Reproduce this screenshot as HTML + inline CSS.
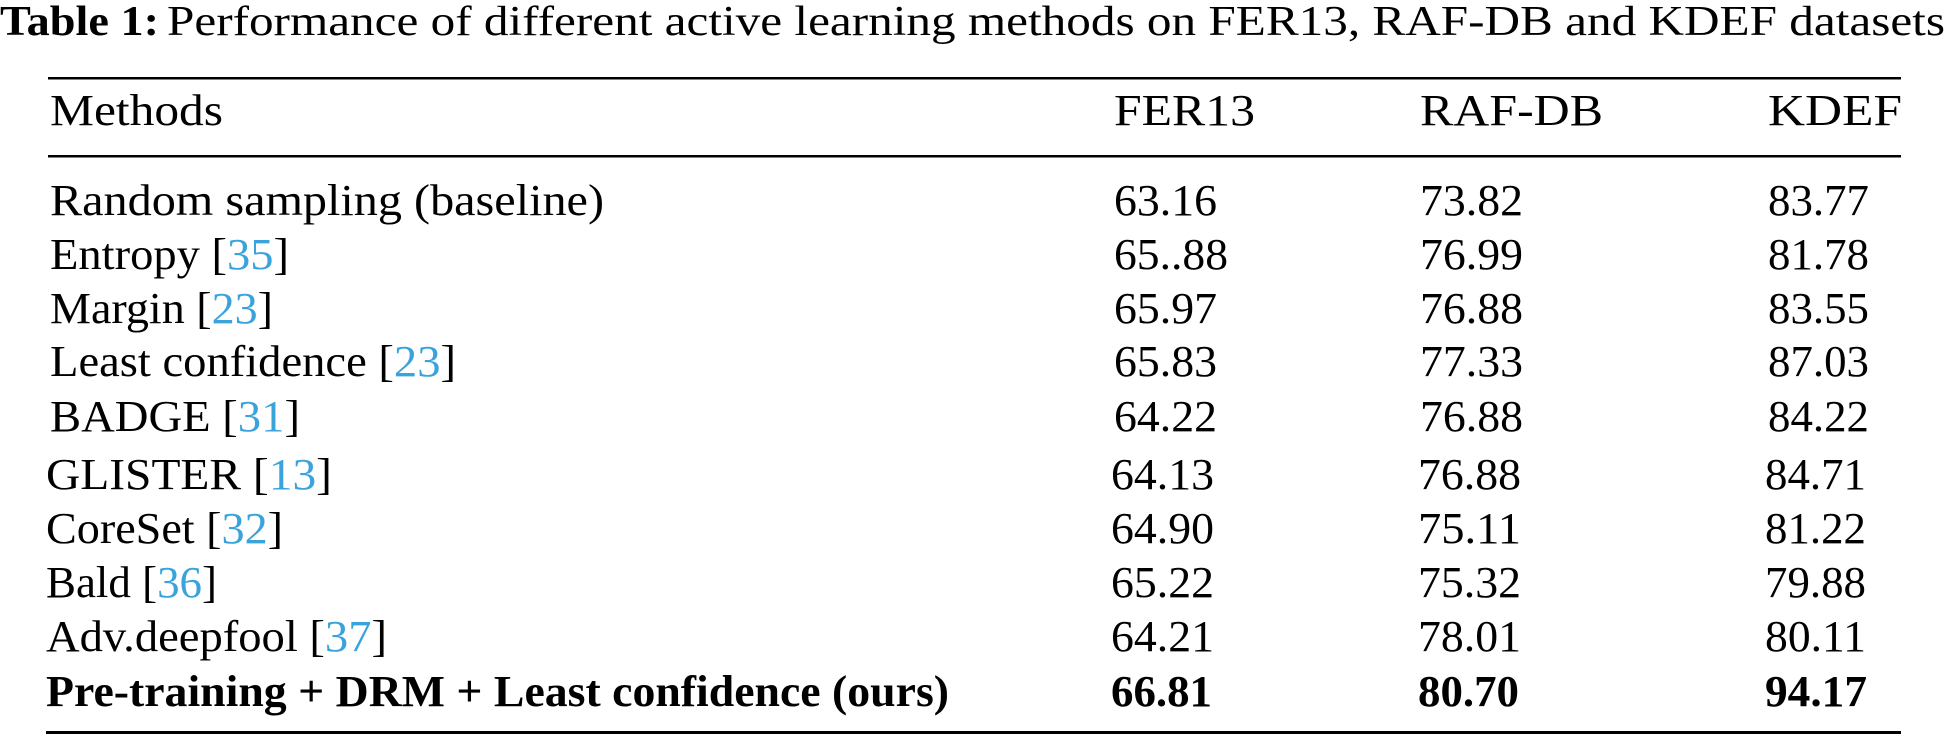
<!DOCTYPE html>
<html><head><meta charset="utf-8"><style>
html,body{margin:0;padding:0;background:#fff;}
svg{display:block;}
text{font-family:"Liberation Serif",serif;fill:#000;}
.c{fill:#3aa3dc;}
.b{font-weight:bold;}
</style></head><body>
<svg width="1945" height="736" viewBox="0 0 1945 736" xmlns="http://www.w3.org/2000/svg">
<text x="0" y="35" font-size="42" class="b" textLength="159" lengthAdjust="spacingAndGlyphs">Table 1:</text>
<text x="167" y="35" font-size="42" textLength="1778" lengthAdjust="spacingAndGlyphs">Performance of different active learning methods on FER13, RAF-DB and KDEF datasets</text>
<rect x="48" y="77" width="1853" height="2.5"/>
<rect x="48" y="155" width="1853" height="2.5"/>
<rect x="46" y="731" width="1855" height="3"/>
<g font-size="44">
<text x="50" y="125" textLength="173" lengthAdjust="spacingAndGlyphs">Methods</text>
<text x="1114" y="125" textLength="141" lengthAdjust="spacingAndGlyphs">FER13</text>
<text x="1420" y="125" textLength="183" lengthAdjust="spacingAndGlyphs">RAF-DB</text>
<text x="1768" y="125" textLength="134" lengthAdjust="spacingAndGlyphs">KDEF</text>

<text x="50" y="215" textLength="554" lengthAdjust="spacingAndGlyphs">Random sampling (baseline)</text>
<text x="1114" y="215" textLength="103" lengthAdjust="spacingAndGlyphs">63.16</text>
<text x="1420" y="215" textLength="103" lengthAdjust="spacingAndGlyphs">73.82</text>
<text x="1768" y="215" textLength="101" lengthAdjust="spacingAndGlyphs">83.77</text>

<text x="50" y="269" textLength="239" lengthAdjust="spacingAndGlyphs">Entropy [<tspan class="c">35</tspan>]</text>
<text x="1114" y="269" textLength="114" lengthAdjust="spacingAndGlyphs">65..88</text>
<text x="1420" y="269" textLength="103" lengthAdjust="spacingAndGlyphs">76.99</text>
<text x="1768" y="269" textLength="101" lengthAdjust="spacingAndGlyphs">81.78</text>

<text x="50" y="323" textLength="223" lengthAdjust="spacingAndGlyphs">Margin [<tspan class="c">23</tspan>]</text>
<text x="1114" y="323" textLength="103" lengthAdjust="spacingAndGlyphs">65.97</text>
<text x="1420" y="323" textLength="103" lengthAdjust="spacingAndGlyphs">76.88</text>
<text x="1768" y="323" textLength="101" lengthAdjust="spacingAndGlyphs">83.55</text>

<text x="50" y="376" textLength="406" lengthAdjust="spacingAndGlyphs">Least confidence [<tspan class="c">23</tspan>]</text>
<text x="1114" y="376" textLength="103" lengthAdjust="spacingAndGlyphs">65.83</text>
<text x="1420" y="376" textLength="103" lengthAdjust="spacingAndGlyphs">77.33</text>
<text x="1768" y="376" textLength="101" lengthAdjust="spacingAndGlyphs">87.03</text>

<text x="50" y="431" textLength="250" lengthAdjust="spacingAndGlyphs">BADGE [<tspan class="c">31</tspan>]</text>
<text x="1114" y="431" textLength="103" lengthAdjust="spacingAndGlyphs">64.22</text>
<text x="1420" y="431" textLength="103" lengthAdjust="spacingAndGlyphs">76.88</text>
<text x="1768" y="431" textLength="101" lengthAdjust="spacingAndGlyphs">84.22</text>

<text x="46" y="489" textLength="286" lengthAdjust="spacingAndGlyphs">GLISTER [<tspan class="c">13</tspan>]</text>
<text x="1111" y="489" textLength="103" lengthAdjust="spacingAndGlyphs">64.13</text>
<text x="1418" y="489" textLength="103" lengthAdjust="spacingAndGlyphs">76.88</text>
<text x="1765" y="489" textLength="101" lengthAdjust="spacingAndGlyphs">84.71</text>

<text x="46" y="543" textLength="237" lengthAdjust="spacingAndGlyphs">CoreSet [<tspan class="c">32</tspan>]</text>
<text x="1111" y="543" textLength="103" lengthAdjust="spacingAndGlyphs">64.90</text>
<text x="1418" y="543" textLength="103" lengthAdjust="spacingAndGlyphs">75.11</text>
<text x="1765" y="543" textLength="101" lengthAdjust="spacingAndGlyphs">81.22</text>

<text x="46" y="597" textLength="171" lengthAdjust="spacingAndGlyphs">Bald [<tspan class="c">36</tspan>]</text>
<text x="1111" y="597" textLength="103" lengthAdjust="spacingAndGlyphs">65.22</text>
<text x="1418" y="597" textLength="103" lengthAdjust="spacingAndGlyphs">75.32</text>
<text x="1765" y="597" textLength="101" lengthAdjust="spacingAndGlyphs">79.88</text>

<text x="46" y="651" textLength="341" lengthAdjust="spacingAndGlyphs">Adv.deepfool [<tspan class="c">37</tspan>]</text>
<text x="1111" y="651" textLength="103" lengthAdjust="spacingAndGlyphs">64.21</text>
<text x="1418" y="651" textLength="103" lengthAdjust="spacingAndGlyphs">78.01</text>
<text x="1765" y="651" textLength="101" lengthAdjust="spacingAndGlyphs">80.11</text>

<text x="46" y="706" class="b" textLength="903" lengthAdjust="spacingAndGlyphs">Pre-training + DRM + Least confidence (ours)</text>
<text x="1111" y="706" class="b" textLength="101" lengthAdjust="spacingAndGlyphs">66.81</text>
<text x="1418" y="706" class="b" textLength="101" lengthAdjust="spacingAndGlyphs">80.70</text>
<text x="1765" y="706" class="b" textLength="102" lengthAdjust="spacingAndGlyphs">94.17</text>
</g>
</svg>
</body></html>
